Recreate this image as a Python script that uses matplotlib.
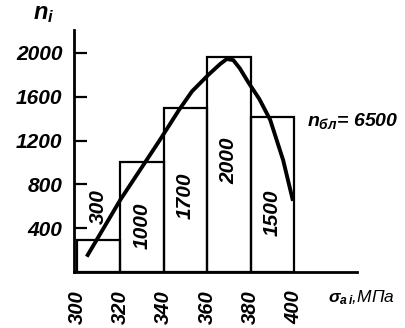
import numpy as np
import matplotlib.pyplot as plt

plt.rcParams['font.family'] = ['Liberation Sans', 'DejaVu Sans']
plt.rcParams['mathtext.fontset'] = 'custom'
plt.rcParams['mathtext.it'] = 'Liberation Sans:italic:bold'
plt.rcParams['mathtext.rm'] = 'Liberation Sans:italic:bold'
plt.rcParams['mathtext.bf'] = 'Liberation Sans:italic:bold'

# histogram of stress amplitudes
bin_left = [300, 320, 340, 360, 380]
bar_height = [290, 1000, 1500, 1960, 1420]
bar_text = ['300', '1000', '1700', '2000', '1500']

# smooth fitted curve
curve_x = [304.5, 320, 338, 342.5, 347, 353, 360.5, 366, 369, 372, 375, 379, 384, 389, 395, 399.5]
curve_y = [140, 660, 1200, 1340, 1480, 1650, 1800, 1900, 1945, 1935, 1860, 1730, 1580, 1390, 1020, 650]

xticks = [300, 320, 340, 360, 380, 400]
yticks = [400, 800, 1200, 1600, 2000]

W, H = 405, 328
fig = plt.figure(figsize=(W/100, H/100), dpi=100)
ax = fig.add_axes([73.5/W, 56/H, (357-73.5)/W, (272-30)/H])

ax.bar(bin_left, bar_height, width=20, align='edge', fill=False,
       edgecolor='black', linewidth=1.6, zorder=2)
ax.plot(curve_x, curve_y, color='black', linewidth=2.8, solid_capstyle='butt', zorder=3)

# labels inside bars (rotated)
text_y = [600, 420, 700, 1020, 540]
for xl, t, ty in zip(bin_left, bar_text, text_y):
    ax.text(xl + 10, ty, t, rotation=90, ha='center', va='center',
            fontsize=15, fontweight='bold', style='italic', zorder=4)

ax.set_xlim(298.4, 429)
ax.set_ylim(0, 2210)
for s in ['top', 'right']:
    ax.spines[s].set_visible(False)
for s in ['left', 'bottom']:
    ax.spines[s].set_linewidth(2.0)

ax.set_xticks(xticks)
ax.set_xticklabels([str(v) for v in xticks], rotation=90,
                   fontsize=14.5, fontweight='bold', style='italic')
ax.set_yticks(yticks)
ax.set_yticklabels([str(v) for v in yticks],
                   fontsize=15, fontweight='bold', style='italic')
ax.tick_params(axis='x', length=0, pad=13)
ax.tick_params(axis='y', direction='in', length=9, width=1.6, pad=8)

fig.text(33/W, 1 - 14/H, r'$n_i$', fontsize=17, va='center', ha='left')
fig.text(307/W, 1 - 121/H, r'$n_{бл}$= 6500', fontsize=14, va='center', ha='left',
         fontweight='bold', style='italic')
fig.text(328/W, 1 - 298/H, r'$\sigma_{a\,i}$,МПа', fontsize=12.5, va='center', ha='left',
         style='italic')

fig.savefig('out.png', dpi=100)
